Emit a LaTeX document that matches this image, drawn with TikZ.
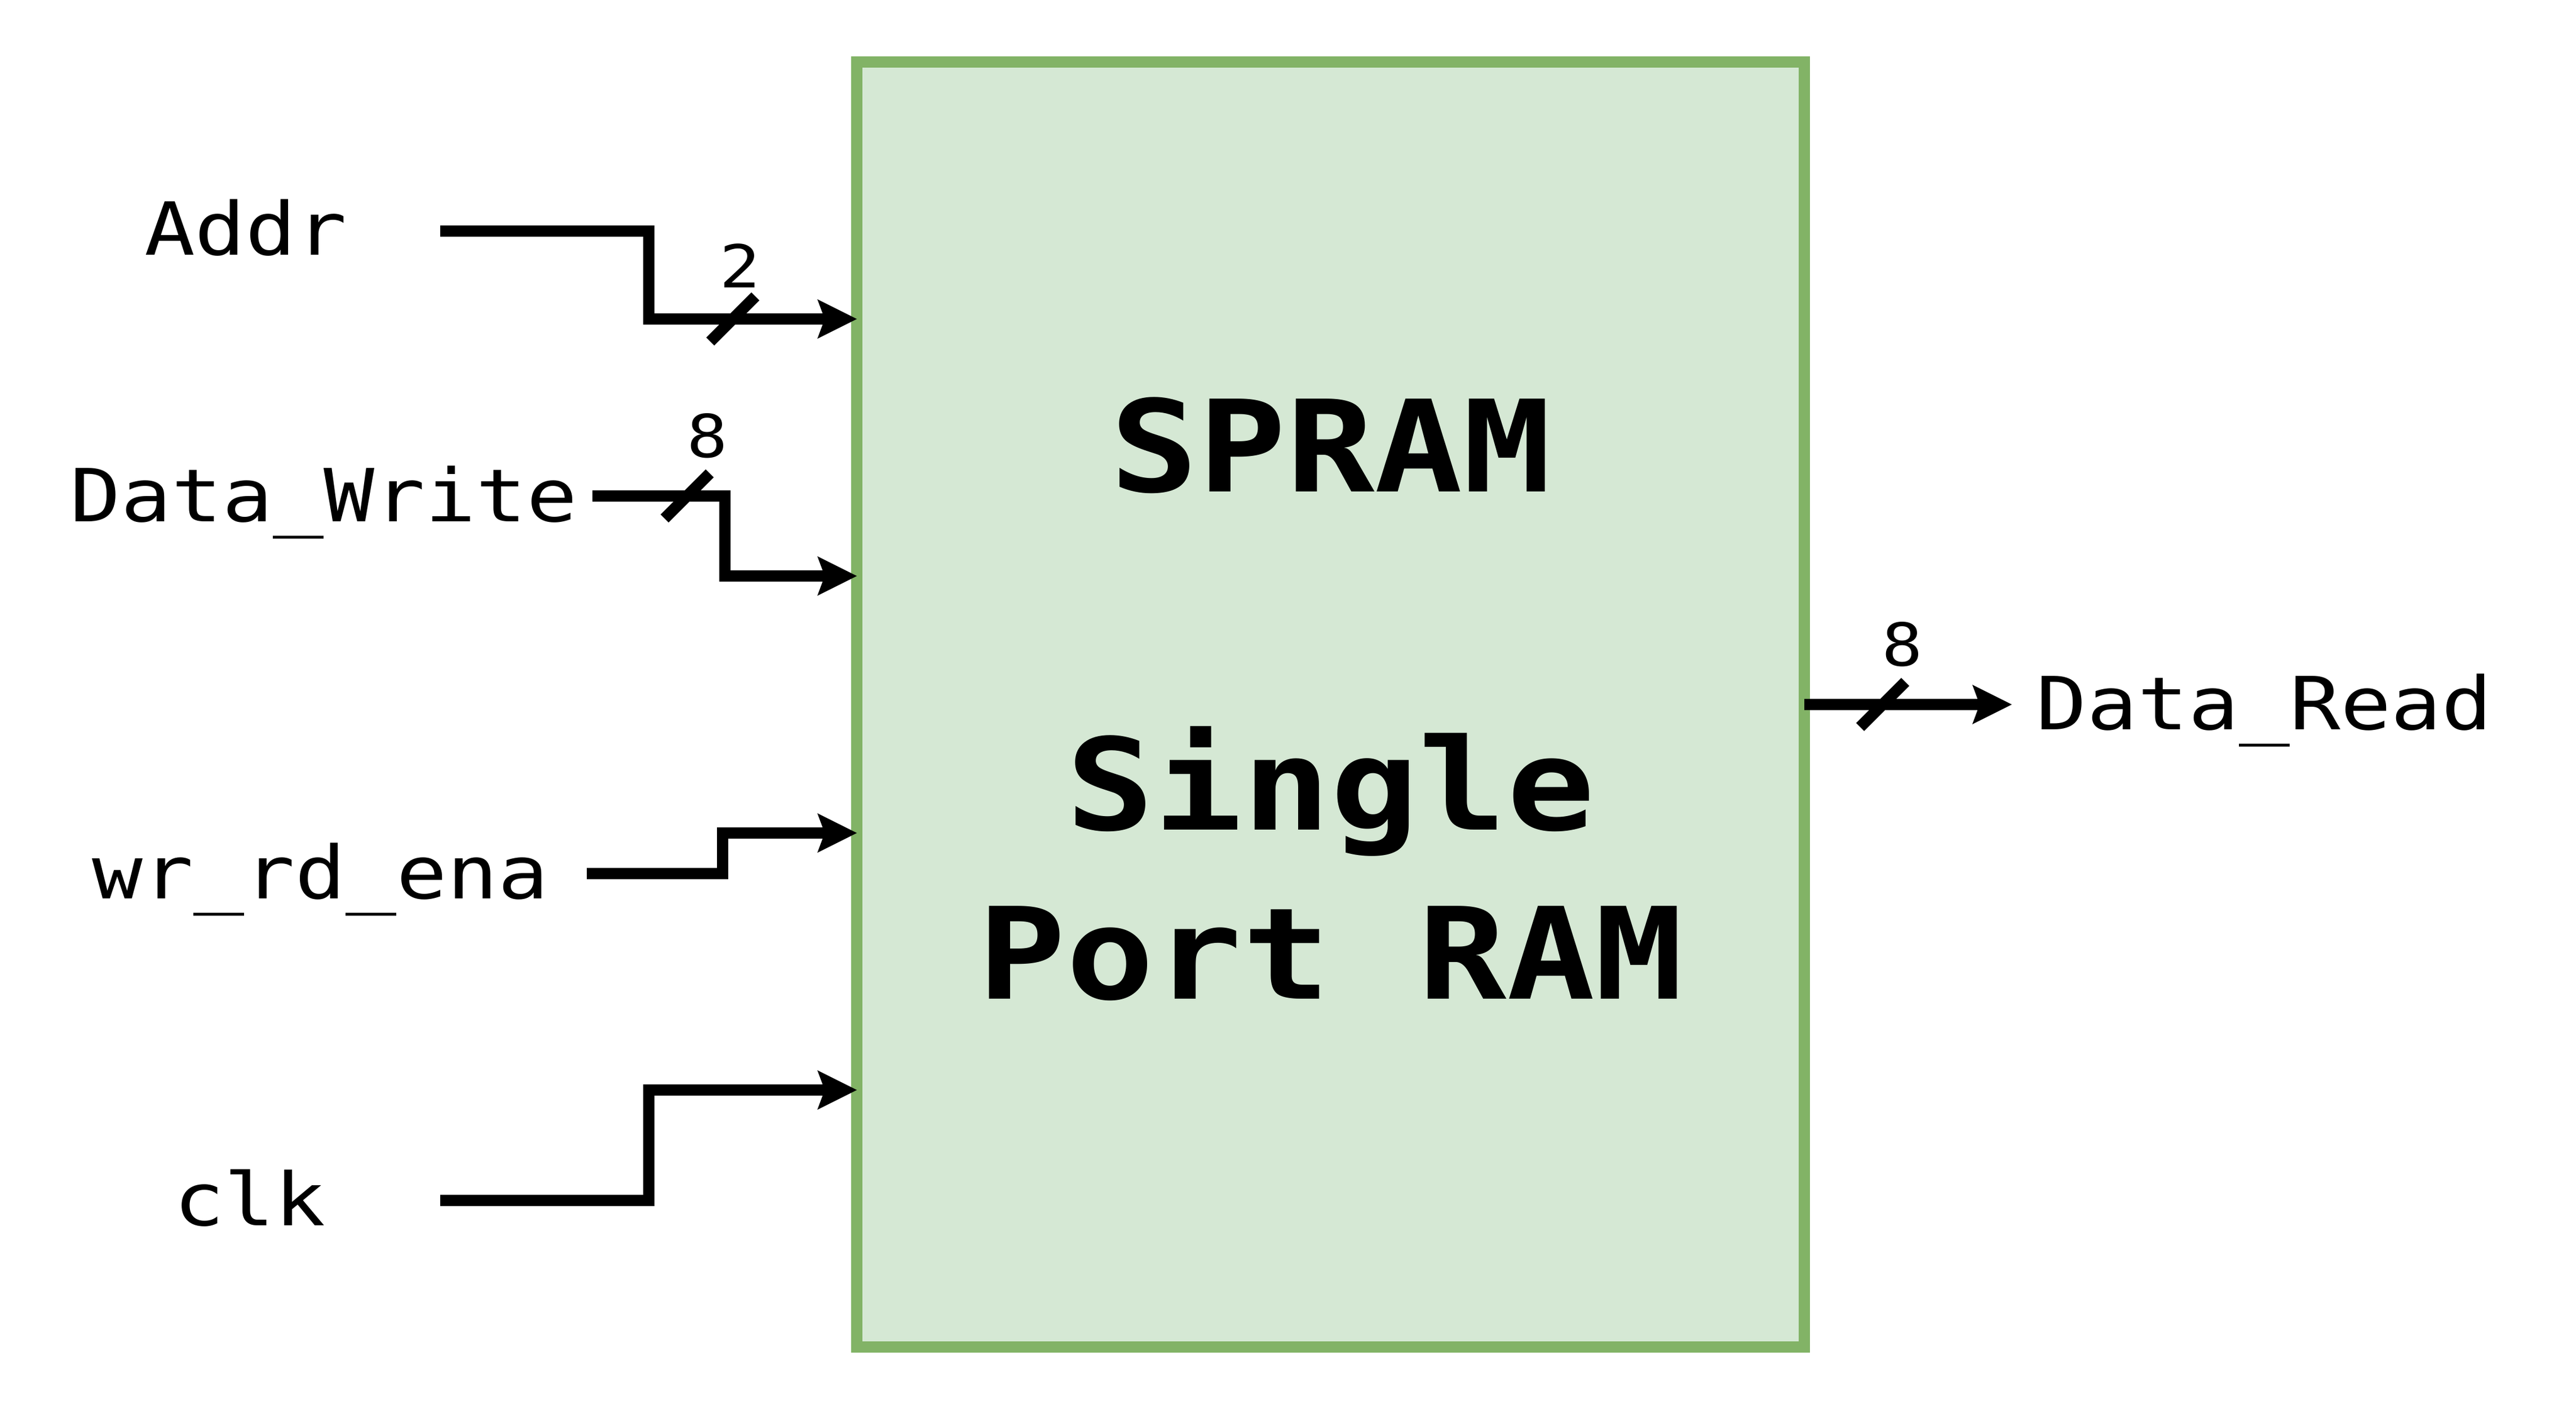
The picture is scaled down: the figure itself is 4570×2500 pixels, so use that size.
\documentclass[tikz,border=0pt]{standalone}
\usepackage{fontspec}
\setmonofont[FakeStretch=1.15]{DejaVu Sans Mono}
\usetikzlibrary{arrows.meta,calc}
\definecolor{ramfill}{HTML}{D5E8D4}
\definecolor{ramline}{HTML}{82B366}

\begin{document}
\begin{tikzpicture}
                    [x=0.1pt,y=-0.1pt,>={Stealth[length=7pt,width=7pt,inset=1.3pt,line width=0pt]},
                     sig/.style={font=\ttfamily\fontsize{13}{15}\selectfont,anchor=base,inner sep=0pt},
                     busw/.style={font=\ttfamily\fontsize{10.5}{12}\selectfont,inner sep=0pt},
                     wire/.style={line width=2pt,->},
                     slash/.style={line width=2pt}]

                    \useasboundingbox (0,0) rectangle (4570,2500);

                    \node[draw=ramline,fill=ramfill,line width=2pt,outer sep=0pt,minimum width=168.1pt,minimum height=228pt] (ram) at (2360.5,1250) {};
                    \node[font=\ttfamily\bfseries\fontsize{22.6}{30}\selectfont,align=center] (title) at (2360.5,1240) {SPRAM\\[30pt]Single\\Port RAM};

                    \coordinate (p1) at ($(ram.north west)!0.2!(ram.south west)$);
                    \coordinate (p2) at ($(ram.north west)!0.4!(ram.south west)$);
                    \coordinate (p3) at ($(ram.north west)!0.6!(ram.south west)$);
                    \coordinate (p4) at ($(ram.north west)!0.8!(ram.south west)$);

                    \node[sig] (addr) at (436,453) {Addr};
                    \node[sig] (dwrite) at (575,925) {Data\_Write};
                    \node[sig] (wrrd) at (569,1594) {wr\_rd\_ena};
                    \node[sig] (clk) at (443,2174) {clk};
                    \node[sig] (dread) at (4017,1294) {Data\_Read};

                    \coordinate (addr in) at (781,410);
                    \coordinate (dwrite in) at (1051,880);
                    \coordinate (wrrd in) at (1041,1550);
                    \coordinate (clk in) at (781,2130);
                    \coordinate (dread out) at (3569,1250);

                    \draw[wire] (addr in) -- ++(370,0) |- (p1);
                    \draw[wire] (dwrite in) -- ++(235,0) |- (p2);
                    \draw[wire] (wrrd in) -- ++(241,0) |- (p3);
                    \draw[wire] (clk in) -- ++(370,0) |- (p4);
                    \draw[wire] (ram.east) -- (dread out);

                    \draw[slash] (1300,566) ++(-40,40) -- ++(80,-80);
                    \node[busw] (w1) at (1313,472) {2};
                    \draw[slash] (1219,880) ++(-40,40) -- ++(80,-80);
                    \node[busw] (w2) at (1255,773) {8};
                    \draw[slash] (3340,1250) ++(-40,40) -- ++(80,-80);
                    \node[busw] (w3) at (3375,1143) {8};
                \end{tikzpicture}
\end{document}
